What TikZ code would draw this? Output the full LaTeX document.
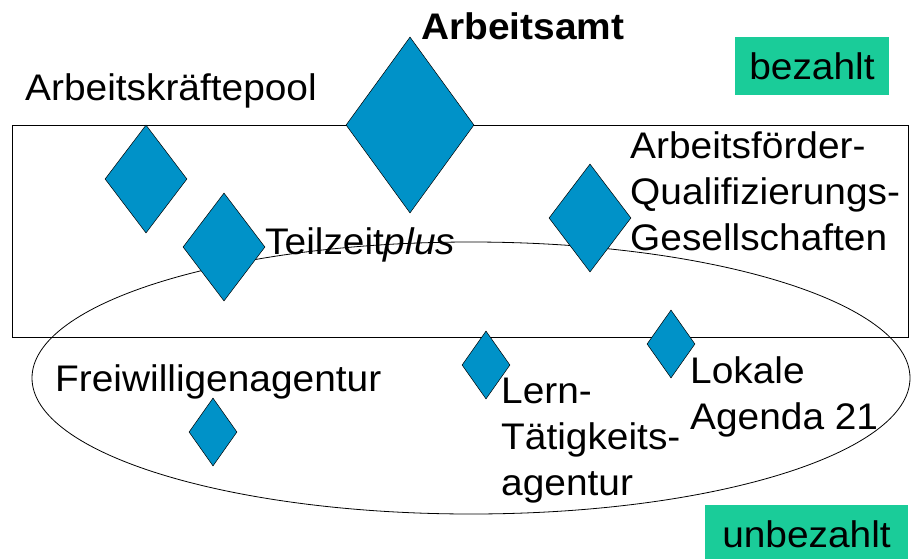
\documentclass[tikz,border=0pt]{standalone}
\usepackage{fontspec}
\setmainfont{Liberation Sans}[FakeStretch=1.05]
\usetikzlibrary{shapes.geometric}
\definecolor{diafill}{RGB}{0,146,200}
\definecolor{boxgreen}{RGB}{26,204,153}
\tikzset{
  dia/.style={diamond, fill=diafill, draw=black, line width=0.5pt, inner sep=0pt},
  bigdia/.style={dia, minimum width=128pt, minimum height=176pt},
  middia/.style={dia, minimum width=82pt, minimum height=108pt},
  smalldia/.style={dia, minimum width=48pt, minimum height=68pt},
  lbl/.style={anchor=base west, inner sep=0pt, align=left, font=\fontsize{37}{46}\selectfont},
  tag/.style={fill=boxgreen, inner sep=0pt, font=\fontsize{37}{46}\selectfont},
  frame/.style={draw=black, line width=0.8pt}
}
\begin{document}
\begin{tikzpicture}[x=1pt,y=-1pt]
\useasboundingbox (0,0) rectangle (911,558);
\fill[white] (0,0) rectangle (911,558);
% frame and ellipse
\draw[frame] (12,125) rectangle (908,337);
\draw[frame] (471,378) ellipse [x radius=439, y radius=136];
% diamonds
\node[bigdia] (amt) at (410,125) {};
\node[middia] (pool) at (146,179) {};
\node[middia] (teil) at (224,247) {};
\node[middia] (afqg) at (590,218) {};
\node[smalldia] (lern) at (486,365) {};
\node[smalldia] (lok) at (671,344) {};
\node[smalldia] (frei) at (213,432) {};
% labels (multi-line labels are placed by their last baseline)
\node[lbl, font=\fontsize{37}{46}\selectfont\bfseries] (tamt) at (421,39) {Arbeitsamt};
\node[lbl] (tpool) at (25,100) {Arbeitskräftepool};
\node[lbl] (tteil) at (265,254) {Teilzeit\textit{plus}};
\node[lbl] (tafqg) at (630,250) {Arbeitsförder-\\Qualifizierungs-\\Gesellschaften};
\node[lbl] (tfrei) at (55,391) {Freiwilligenagentur};
\node[lbl] (tlern) at (501,495) {Lern-\\Tätigkeits-\\agentur};
\node[lbl] (tlok) at (690,429) {Lokale\\Agenda 21};
% tags
\node[tag, minimum width=154pt, minimum height=58pt] (bez) at (812,66) {bezahlt};
\node[tag, minimum width=203pt, minimum height=58pt] (unbez) at (806.5,534) {unbezahlt};
\end{tikzpicture}
\end{document}
